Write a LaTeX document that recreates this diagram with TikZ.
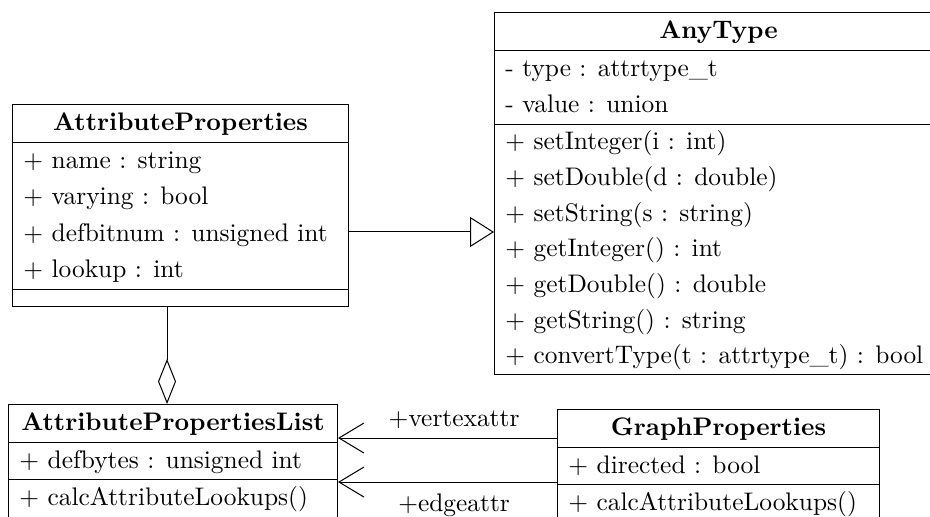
\documentclass[tikz,border=0pt]{standalone}
\usepackage{tikz}
\usetikzlibrary{shapes.multipart,arrows.meta}

% Lignes d'un compartiment de classe
\newcommand{\umlpart}[2][1.2]{{\renewcommand{\arraystretch}{#1}\begin{tabular}{@{}l@{}}#2\end{tabular}}}

\begin{document}
\begin{tikzpicture}[
  umlclass/.style={draw, rectangle split, rectangle split parts=3,
    rectangle split part align={center,left,left},
    inner xsep=4.3pt, inner ysep=0pt, anchor=north west},
  heritage/.style={-{Triangle[open,length=9.4pt,width=11.8pt]}},
  agregation/.style={{Diamond[open,length=17.7pt,width=7.1pt]}-},
  association/.style={-{Straight Barb[length=9.8pt,width=11.8pt]}}
]
  % Cadre
  \useasboundingbox (0,0) rectangle (12.868,7.140);

  % Classe AttributeProperties
  \node[umlclass, minimum width=4.649cm] (attrprop) at (0.166,5.701)
    {\umlpart{\textbf{AttributeProperties}}
     \nodepart{second}\umlpart{+ name : string\\ + varying : bool\\
       + defbitnum : unsigned int\\ + lookup : int}
     \nodepart{third}\rule{0pt}{6.3pt}};

  % Classe AnyType (coupée à droite)
  \node[umlclass, minimum width=6.2cm] (anytype) at (6.835,6.974)
    {\umlpart{\textbf{AnyType}}
     \nodepart{second}\umlpart{- type : attrtype\_t\\ - value : union}
     \nodepart{third}\umlpart[1.17]{+ setInteger(i : int)\\ + setDouble(d : double)\\
       + setString(s : string)\\ + getInteger() : int\\ + getDouble() : double\\
       + getString() : string\\ + convertType(t : attrtype\_t) : bool}};

  % Classe AttributePropertiesList
  \node[umlclass, minimum width=4.552cm] (attrproplist) at (0.111,1.550)
    {\umlpart{\textbf{AttributePropertiesList}}
     \nodepart{second}\umlpart{+ defbytes : unsigned int}
     \nodepart{third}\umlpart{+ calcAttributeLookups()}};

  % Classe GraphProperties
  \node[umlclass, minimum width=4.456cm] (graphprop) at (7.707,1.481)
    {\umlpart{\textbf{GraphProperties}}
     \nodepart{second}\umlpart{+ directed : bool}
     \nodepart{third}\umlpart{+ calcAttributeLookups()}};

  % Niveaux des liens
  \coordinate (heritlvl) at (0,3.930);
  \coordinate (agrx) at (2.311,0);
  \coordinate (vertexlvl) at (0,1.079);
  \coordinate (edgelvl) at (0,0.470);

  % Liens
  \draw[heritage] (attrprop.east |- heritlvl) -- (anytype.west |- heritlvl);
  \draw[agregation] (attrproplist.north -| agrx) -- (attrprop.south -| agrx);
  \draw[association] (graphprop.west |- vertexlvl) -- node[above, pos=0.47] {+vertexattr} (attrproplist.east |- vertexlvl);
  \draw[association] (graphprop.west |- edgelvl) -- node[below=1.2pt, pos=0.47] {+edgeattr} (attrproplist.east |- edgelvl);
\end{tikzpicture}
\end{document}
